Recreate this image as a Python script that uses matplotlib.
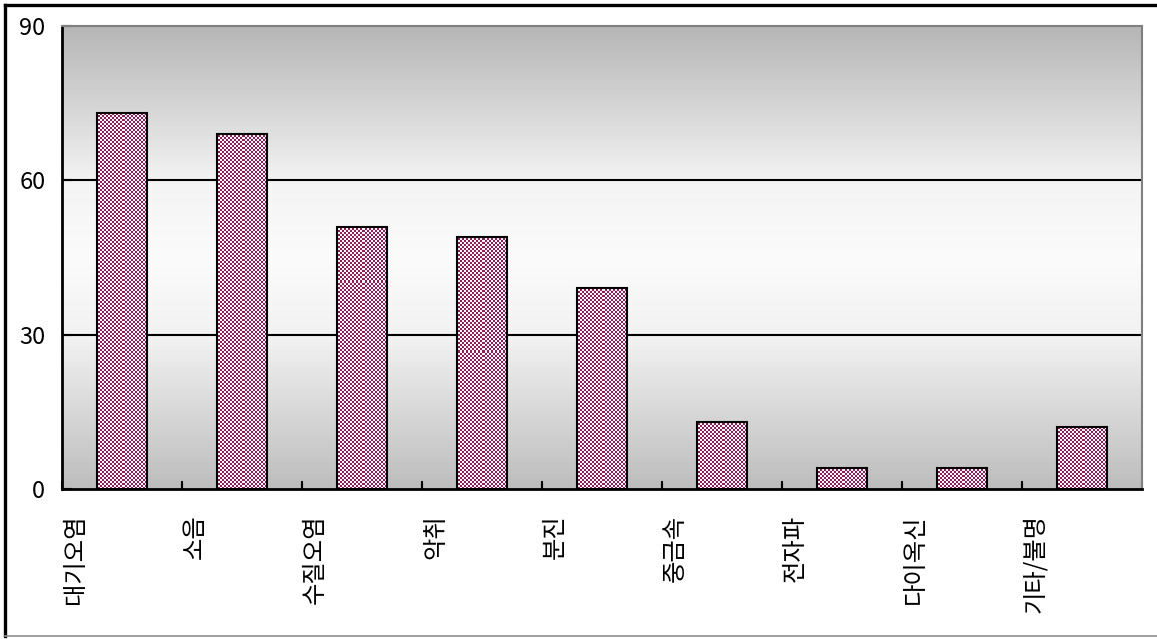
import numpy as np
import matplotlib
matplotlib.use("Agg")
import matplotlib.pyplot as plt
from matplotlib.colors import LinearSegmentedColormap, ListedColormap
from matplotlib.lines import Line2D

plt.rcParams['font.family'] = ['Noto Sans CJK KR', 'DejaVu Sans']

categories = ['대기오염', '소음', '수질오염', '악취', '분진', '중금속', '전자파', '다이옥신', '기타/불명']
counts = [73, 69, 51, 49, 39, 13, 4, 4, 12]
yticks = [0, 30, 60, 90]

W, H = 1157, 639
fig = plt.figure(figsize=(W / 100, H / 100), dpi=100)
fig.patch.set_facecolor('white')

# outer frame: heavy top/left, light grey bottom
fig.add_artist(Line2D([5 / W, 1], [1 - 5 / H, 1 - 5 / H], color='black', lw=2.4))
fig.add_artist(Line2D([5 / W, 5 / W], [1 - 5 / H, 3 / H], color='black', lw=2.4))
fig.add_artist(Line2D([5 / W, 1], [3 / H, 3 / H], color='#909090', lw=1.2))

ax = fig.add_axes([62 / W, 150 / H, 1080 / W, 463 / H])
x = np.arange(len(categories))
xlim = (-0.5, len(categories) - 0.5)
ylim = (0, 90)

# vertical grey-white-grey gradient behind the bars
stops = [(0.0, '#bdbdbd'), (0.33, '#f2f2f2'), (0.5, '#fbfbfb'),
         (0.66, '#f4f4f4'), (0.72, '#e9e9e9'), (1.0, '#b6b6b6')]
grad_cmap = LinearSegmentedColormap.from_list('bg', stops)
grad = np.linspace(0, 1, 256).reshape(-1, 1)
ax.imshow(grad, cmap=grad_cmap, extent=(*xlim, *ylim), origin='lower',
          aspect='auto', zorder=0, interpolation='bilinear')

bars = ax.bar(x, counts, width=0.42, facecolor='none', edgecolor='black',
              linewidth=1.5, zorder=4)

# checkerboard fill, one pixel grid over the axes, clipped to each bar
ny, nx = 463, 1080
yy, xx = np.mgrid[0:ny, 0:nx]
checker = ((yy // 2 + xx // 2) % 2).astype(float)
check_cmap = ListedColormap(['#8a1f5a', '#fbf4f8'])
for b in bars:
    im = ax.imshow(checker, cmap=check_cmap, extent=(*xlim, *ylim),
                   origin='lower', aspect='auto', interpolation='nearest', zorder=3)
    im.set_clip_path(b)

for v in [30, 60]:
    ax.axhline(v, color='black', lw=1.5, zorder=2)

ax.set_xlim(*xlim)
ax.set_ylim(*ylim)
ax.set_yticks(yticks)
ax.set_yticklabels([str(t) for t in yticks], fontsize=17)
ax.tick_params(axis='y', direction='in', length=7, width=1.5, pad=12)

ax.set_xticks(np.arange(len(categories) + 1) - 0.5)
ax.set_xticklabels([])
ax.tick_params(axis='x', direction='in', length=6, width=1.5)

for i, name in enumerate(categories):
    ax.text(i - 0.5, -0.055, name, transform=ax.get_xaxis_transform(),
            rotation=90, ha='left', va='top', fontsize=17.5)

for side in ['left', 'bottom']:
    ax.spines[side].set_linewidth(2)
    ax.spines[side].set_color('black')
for side in ['top', 'right']:
    ax.spines[side].set_linewidth(1.5)
    ax.spines[side].set_color('#808080')

fig.savefig('out.png', dpi=100)
